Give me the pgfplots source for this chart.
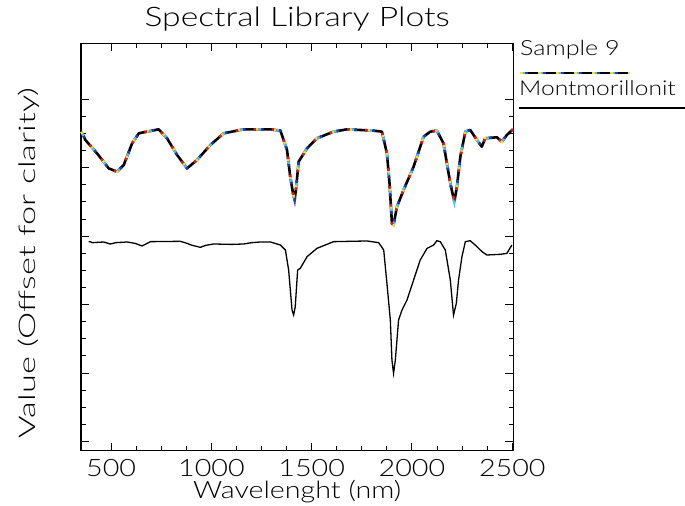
\documentclass[border=0pt]{standalone}
\usepackage{fontspec}
\usepackage{pgfplots}
\usepackage{pgfplotstable}
\pgfplotsset{compat=1.18}
\newfontfamily\hf[FakeStretch=1.2, UprightFont={* Light}]{Lato}
\newfontfamily\hft[FakeStretch=1.25, UprightFont={* Light}]{Lato}
\newfontfamily\hfy[FakeStretch=1.5, UprightFont={* Light}]{Lato}
\definecolor{cyel}{HTML}{F2DC4A}
\definecolor{ccya}{HTML}{50C0F0}
\definecolor{cblu}{HTML}{283AA0}
\definecolor{cred}{HTML}{D02020}

\pgfplotstableread{
x y
352 4.527
372 4.405
430 4.210
488 3.991
530 3.942
563 4.040
605 4.357
638 4.503
679 4.527
737 4.561
779 4.430
829 4.186
879 3.991
928 4.113
995 4.332
1061 4.503
1161 4.561
1294 4.561
1344 4.542
1377 4.259
1393 3.869
1407 3.626
1415 3.528
1423 3.723
1435 4.089
1477 4.284
1526 4.430
1609 4.527
1676 4.561
1809 4.542
1850 4.527
1875 4.210
1888 3.772
1900 3.187
1908 3.163
1925 3.431
1958 3.675
2008 4.015
2058 4.454
2091 4.527
2124 4.542
2157 4.357
2191 3.772
2211 3.504
2224 3.723
2241 4.161
2266 4.527
2290 4.552
2324 4.405
2348 4.308
2365 4.430
2423 4.445
2448 4.381
2473 4.479
2503 4.561
}\sample

\pgfplotstableread{
x y
388 2.920
397 2.920
405 2.905
463 2.915
480 2.900
496 2.886
510 2.895
521 2.905
580 2.915
620 2.895
654 2.857
670 2.880
696 2.920
845 2.925
879 2.895
900 2.870
945 2.837
970 2.865
1011 2.886
1100 2.880
1161 2.886
1200 2.905
1244 2.915
1294 2.915
1344 2.871
1369 2.798
1385 2.506
1402 1.921
1410 1.848
1418 1.970
1430 2.506
1443 2.530
1477 2.701
1526 2.822
1609 2.920
1776 2.930
1834 2.905
1859 2.798
1875 2.311
1892 1.775
1900 1.191
1908 0.996
1917 1.191
1933 1.775
1950 1.921
1975 2.067
2008 2.360
2041 2.652
2075 2.822
2108 2.871
2124 2.934
2141 2.920
2166 2.798
2191 2.360
2207 1.848
2221 2.019
2232 2.360
2249 2.701
2266 2.920
2290 2.934
2315 2.871
2349 2.774
2373 2.725
2440 2.735
2473 2.749
2498 2.871
}\mont

\tikzset{
  cy/.style={cyel, line width=2.6bp, dash pattern=on 2.5bp off 15.5bp, dash phase=0bp},
  cc/.style={ccya, line width=2.6bp, dash pattern=on 2.5bp off 15.5bp, dash phase=15.5bp},
  cb/.style={cblu, line width=2.6bp, dash pattern=on 2.5bp off 15.5bp, dash phase=13bp},
  cr/.style={cred, line width=2.6bp, dash pattern=on 2.5bp off 15.5bp, dash phase=2.5bp},
}

\begin{document}
\begin{tikzpicture}
\useasboundingbox (0,0) rectangle (685bp,506bp);
\begin{axis}[
  at={(81bp,55.3bp)}, anchor=south west,
  width=432.3bp, height=407.4bp, scale only axis,
  xmin=350, xmax=2505, ymin=-0.134, ymax=5.818,
  xtick={500,1000,1500,2000,2500},
  xticklabels={500,1000,1500,2000,2500},
  minor x tick num=3,
  ytick={0,1,2,3,4,5}, yticklabels={}, minor y tick num=3,
  tick align=inside, major tick length=8bp, minor tick length=4.5bp,
  tick pos=both,
  axis line style={line width=1.2bp},
  every tick/.style={black, line width=1bp},
  xticklabel style={font=\hf\fontsize{24}{24}\selectfont, anchor=base, yshift=-25.3bp, inner sep=0pt},
  title={\hft\fontsize{27}{27}\selectfont Spectral Library Plots},
  title style={at={(axis description cs:0.5,1)}, anchor=base, yshift=11.3bp, inner sep=0pt},
  xlabel={\hf\fontsize{24}{24}\selectfont Wavelenght (nm)},
  xlabel style={at={(axis description cs:0.5,0)}, anchor=base, yshift=-47.3bp, inner sep=0pt},
  ylabel={\hfy\fontsize{23}{23}\selectfont Value (Offset for clarity)},
  ylabel style={at={(axis description cs:-0.1041,0.4607)}, anchor=base, inner sep=0pt},
  clip=false,
]
\addplot[black, line width=1.3bp] table[x=x,y=y] {\mont};
\addplot[black, line width=2.6bp, line join=round] table[x=x,y=y] {\sample};
\addplot[cy] table[x=x,y=y] {\sample};
\addplot[cc] table[x=x,y=y] {\sample};
\addplot[cb] table[x=x,y=y] {\sample};
\addplot[cr] table[x=x,y=y] {\sample};
\end{axis}
\node[anchor=base west, inner sep=0pt, font=\hf\fontsize{21}{21}\selectfont] at (520bp,450bp) {Sample 9};
\draw[black, line width=2bp] (520bp,433bp) -- (630bp,433bp);
\draw[cy, line width=2bp] (520bp,433bp) -- (630bp,433bp);
\draw[cc, line width=2bp] (520bp,433bp) -- (630bp,433bp);
\draw[cb, line width=2bp] (520bp,433bp) -- (630bp,433bp);
\node[anchor=base west, inner sep=0pt, font=\hf\fontsize{20.5}{20.5}\selectfont] at (519bp,410bp) {Montmorillonit};
\draw[black, line width=1.6bp] (519bp,398bp) -- (685bp,398bp);
\end{tikzpicture}
\end{document}
